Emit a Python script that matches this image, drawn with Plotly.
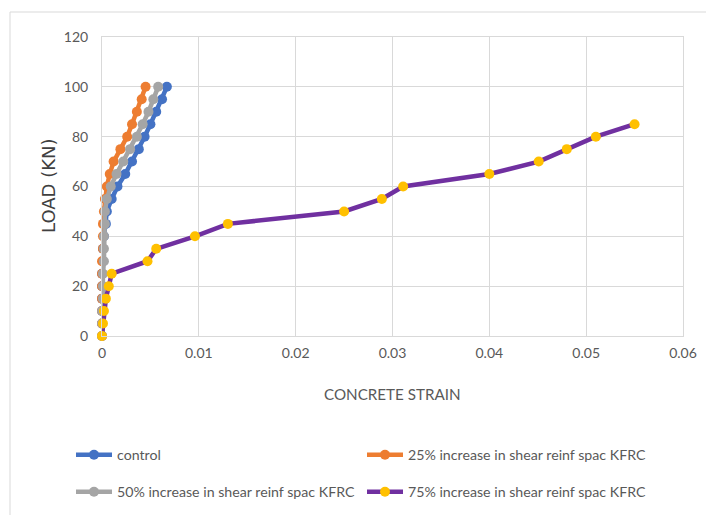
import plotly.graph_objects as go

loads = [0, 5, 10, 15, 20, 25, 30, 35, 40, 45, 50, 55, 60, 65, 70, 75, 80, 85, 90, 95, 100]
control = [0, 0, 0, 0, 0, 0, 0.0001, 0.0001, 0.0002, 0.0004, 0.0005, 0.0010, 0.0016, 0.0024, 0.0031,
           0.0038, 0.0044, 0.0050, 0.0056, 0.0062, 0.0067]
inc25 = [0, 0, 0, 0, 0, 0, 0, 0.0001, 0.0001, 0.0001, 0.0002, 0.0003, 0.0005, 0.0008, 0.0012,
         0.0019, 0.0026, 0.0031, 0.0036, 0.0041, 0.0045]
inc50 = [0, 0, 0, 0.0001, 0.0001, 0.0001, 0.0002, 0.0002, 0.0002, 0.0003, 0.0003, 0.0005, 0.0009,
         0.0015, 0.0022, 0.0029, 0.0036, 0.0042, 0.0048, 0.0053, 0.0058]
loads75 = [0, 5, 10, 15, 20, 25, 30, 35, 40, 45, 50, 55, 60, 65, 70, 75, 80, 85]
inc75 = [0, 0.0001, 0.0002, 0.0004, 0.0007, 0.0010, 0.0047, 0.0056, 0.0096, 0.0130, 0.0250,
         0.0289, 0.0311, 0.0400, 0.0451, 0.0480, 0.0510, 0.0550]

names = ["control", "25% increase in shear reinf spac KFRC",
         "50% increase in shear reinf spac KFRC", "75% increase in shear reinf spac KFRC"]

FONT = "Lato"
TXT = "#595959"
GRID = "#D9D9D9"

fig = go.Figure()
series = [
    (control, loads, "#4472C4", "#4472C4", "legend"),
    (inc25, loads, "#ED7D31", "#ED7D31", "legend"),
    (inc50, loads, "#A5A5A5", "#A5A5A5", "legend2"),
    (inc75, loads75, "#7030A0", "#FFC000", "legend2"),
]
for (xs, ys, lc, mc, lg), nm in zip(series, names):
    fig.add_trace(go.Scatter(
        x=xs, y=ys, name=nm, mode="lines+markers",
        line=dict(color=lc, width=4.5),
        marker=dict(color=mc, size=10, symbol="circle"),
        cliponaxis=False, legend=lg,
    ))

L, R, T, B = 102, 23, 37, 179
W, H = 706, 515
pw, ph = W - L - R, H - T - B

fig.add_shape(type="rect", xref="paper", yref="paper",
              x0=(10 - L) / pw, x1=(720 - L) / pw,
              y0=(H - B - 530) / ph, y1=(H - B - 12) / ph,
              line=dict(color=GRID, width=1), fillcolor="rgba(0,0,0,0)", layer="below")

fig.add_annotation(text="CONCRETE STRAIN", xref="paper", yref="paper",
                   x=0.5, y=(H - B - 394) / ph, xanchor="center", yanchor="middle",
                   showarrow=False, font=dict(family=FONT, size=15.2, color=TXT))
fig.add_annotation(text="LOAD (KN)", xref="paper", yref="paper",
                   x=(48 - L) / pw, y=(H - B - 186) / ph, xanchor="center", yanchor="middle",
                   textangle=-90, showarrow=False,
                   font=dict(family="DejaVu Sans", size=18, color="#404040"))

legend_common = dict(orientation="h", xref="container", x=71 / W, xanchor="left",
                     yref="container", yanchor="top",
                     entrywidth=240, entrywidthmode="pixels",
                     font=dict(family=FONT, size=14.2, color=TXT),
                     itemwidth=36, traceorder="normal", bgcolor="rgba(0,0,0,0)")

fig.update_layout(
    width=W, height=H,
    margin=dict(l=L, r=R, t=T, b=B),
    paper_bgcolor="white", plot_bgcolor="white",
    font=dict(family=FONT, size=14, color=TXT),
    showlegend=True,
    legend=dict(y=1 - 439 / H, **legend_common),
    legend2=dict(y=1 - 476 / H, **legend_common),
    xaxis=dict(range=[0, 0.06], dtick=0.01, tick0=0, showgrid=True, gridcolor=GRID,
               gridwidth=1, zeroline=False, showline=True, linecolor=GRID, mirror=True,
               ticks="", ticklabelstandoff=4, automargin=False,
               tickfont=dict(family=FONT, size=14, color=TXT)),
    yaxis=dict(range=[0, 120], dtick=20, tick0=0, showgrid=True, gridcolor=GRID,
               gridwidth=1, zeroline=False, showline=True, linecolor=GRID, mirror=True,
               ticks="", ticklabelstandoff=10, automargin=False,
               tickfont=dict(family=FONT, size=14, color=TXT)),
)

fig.write_html("out.html")
